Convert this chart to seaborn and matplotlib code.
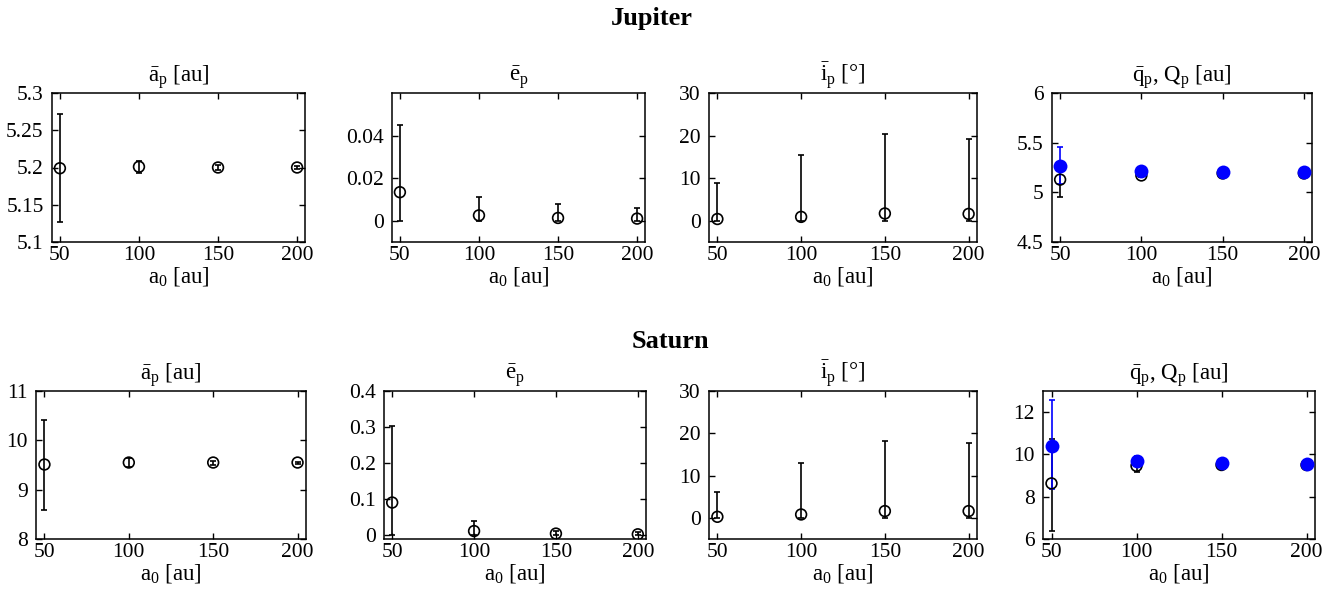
import matplotlib
matplotlib.use("Agg")
import matplotlib.pyplot as plt
import seaborn as sns
import pandas as pd
from matplotlib.ticker import FormatStrFormatter

# ---- data (mean, lower bound, upper bound) ----
a0 = [50, 100, 150, 200]

jup_a = [5.199, 5.201, 5.200, 5.200]
jup_a_lo = [5.127, 5.192, 5.197, 5.198]
jup_a_hi = [5.272, 5.209, 5.203, 5.202]
jup_e = [0.0134, 0.0025, 0.0013, 0.0010]
jup_e_lo = [0.0, 0.0, 0.0, 0.0]
jup_e_hi = [0.045, 0.011, 0.008, 0.006]
jup_i = [0.4, 0.9, 1.7, 1.6]
jup_i_lo = [0.0, 0.0, 0.0, 0.0]
jup_i_hi = [8.8, 15.4, 20.4, 19.2]
jup_q = [5.128, 5.17, 5.19, 5.19]
jup_q_lo = [4.95, 5.15, 5.18, 5.185]
jup_q_hi = [5.30, 5.19, 5.20, 5.195]
jup_Q = [5.267, 5.21, 5.20, 5.20]
jup_Q_lo = [5.08, 5.20, 5.195, 5.197]
jup_Q_hi = [5.46, 5.225, 5.205, 5.203]

sat_a = [9.51, 9.55, 9.55, 9.55]
sat_a_lo = [8.59, 9.45, 9.51, 9.53]
sat_a_hi = [10.41, 9.64, 9.58, 9.57]
sat_e = [0.091, 0.012, 0.005, 0.003]
sat_e_lo = [0.0, 0.0, 0.0, 0.0]
sat_e_hi = [0.303, 0.040, 0.012, 0.009]
sat_i = [0.25, 0.8, 1.6, 1.6]
sat_i_lo = [0.0, 0.0, 0.0, 0.0]
sat_i_hi = [6.0, 12.9, 18.1, 17.6]
sat_q = [8.63, 9.46, 9.50, 9.50]
sat_q_lo = [6.39, 9.15, 9.42, 9.45]
sat_q_hi = [10.72, 9.72, 9.58, 9.55]
sat_Q = [10.38, 9.70, 9.59, 9.56]
sat_Q_lo = [8.35, 9.50, 9.52, 9.52]
sat_Q_hi = [12.58, 9.94, 9.66, 9.60]

titles = [r"$\bar{\mathrm{a}}_{\mathrm{p}}$ [au]",
          r"$\bar{\mathrm{e}}_{\mathrm{p}}$",
          r"$\bar{\mathrm{i}}_{\mathrm{p}}$ [°]",
          r"$\bar{\mathrm{q}}_{\mathrm{p}}$, Q$_{\mathrm{p}}$ [au]"]

sns.set_theme(style="ticks")
plt.rcParams["font.family"] = ["Liberation Serif", "DejaVu Serif"]
plt.rcParams["mathtext.fontset"] = "custom"
plt.rcParams["mathtext.rm"] = "Liberation Serif"
plt.rcParams["mathtext.it"] = "Liberation Serif:italic"
plt.rcParams["axes.edgecolor"] = "black"
plt.rcParams["text.color"] = "black"
plt.rcParams["axes.labelcolor"] = "black"

W, H = 1334, 590
fig = plt.figure(figsize=(W / 100, H / 100), dpi=100)


def add_ax(x0, y0, x1, y1):
    return fig.add_axes([x0 / W, (H - y1) / H, (x1 - x0) / W, (y1 - y0) / H])


def draw(ax, mean, lo, hi, color="black", filled=False):
    df = pd.DataFrame({"a0": a0, "val": mean})
    yerr = [[m - l for m, l in zip(mean, lo)], [h - m for m, h in zip(mean, hi)]]
    ax.errorbar(a0, mean, yerr=yerr, fmt="none", ecolor=color, elinewidth=1.2,
                capsize=2.3, capthick=1.2, zorder=2)
    if filled:
        sns.scatterplot(data=df, x="a0", y="val", ax=ax, s=100, color=color,
                        edgecolor=color, linewidth=0, zorder=4)
    else:
        sns.scatterplot(data=df, x="a0", y="val", ax=ax, s=60, marker="o",
                        facecolor="none", edgecolor="black", linewidth=1.2, zorder=3)


def style(ax, title, ylim, yticks, fmt):
    ax.set_xlim(45, 205)
    ax.set_xticks([50, 100, 150, 200])
    ax.set_ylim(*ylim)
    ax.set_yticks(yticks)
    ax.yaxis.set_major_formatter(FormatStrFormatter(fmt))
    ax.tick_params(direction="in", top=True, right=True, length=4, width=1,
                   labelsize=15.5, colors="black")
    ax.tick_params(axis="x", pad=3)
    ax.tick_params(axis="y", pad=6)
    for s in ax.spines.values():
        s.set_linewidth(1.1)
        s.set_color("black")
    ax.set_title(title, fontsize=16.5, pad=8)
    ax.set_xlabel(r"a$_0$ [au]", fontsize=16.5, labelpad=0)
    ax.set_ylabel("")


# ---- Jupiter row ----
row1 = [(52, 305), (392, 645), (709, 977), (1052, 1312)]
axs = [add_ax(x0, 93, x1, 242) for x0, x1 in row1]
draw(axs[0], jup_a, jup_a_lo, jup_a_hi)
style(axs[0], titles[0], (5.1, 5.3), [5.1, 5.15, 5.2, 5.25, 5.3], "%g")
draw(axs[1], jup_e, jup_e_lo, jup_e_hi)
style(axs[1], titles[1], (-0.01, 0.06), [0, 0.02, 0.04], "%g")
draw(axs[2], jup_i, jup_i_lo, jup_i_hi)
style(axs[2], titles[2], (-5, 30), [0, 10, 20, 30], "%g")
draw(axs[3], jup_q, jup_q_lo, jup_q_hi)
draw(axs[3], jup_Q, jup_Q_lo, jup_Q_hi, color="blue", filled=True)
style(axs[3], titles[3], (4.5, 6), [4.5, 5, 5.5, 6], "%g")

# ---- Saturn row ----
row2 = [(36, 306), (384, 646), (709, 977), (1043, 1315)]
axs = [add_ax(x0, 391, x1, 539) for x0, x1 in row2]
draw(axs[0], sat_a, sat_a_lo, sat_a_hi)
style(axs[0], titles[0], (8, 11), [8, 9, 10, 11], "%g")
draw(axs[1], sat_e, sat_e_lo, sat_e_hi)
style(axs[1], titles[1], (-0.01, 0.4), [0, 0.1, 0.2, 0.3, 0.4], "%g")
draw(axs[2], sat_i, sat_i_lo, sat_i_hi)
style(axs[2], titles[2], (-5, 30), [0, 10, 20, 30], "%g")
draw(axs[3], sat_q, sat_q_lo, sat_q_hi)
draw(axs[3], sat_Q, sat_Q_lo, sat_Q_hi, color="blue", filled=True)
style(axs[3], titles[3], (6, 13), [6, 8, 10, 12], "%g")

fig.text(652 / W, 1 - 18 / H, "Jupiter", ha="center", va="center",
         fontsize=19, fontweight="bold")
fig.text(670 / W, 1 - 342 / H, "Saturn", ha="center", va="center",
         fontsize=19, fontweight="bold")

fig.savefig("out.png", dpi=100)
